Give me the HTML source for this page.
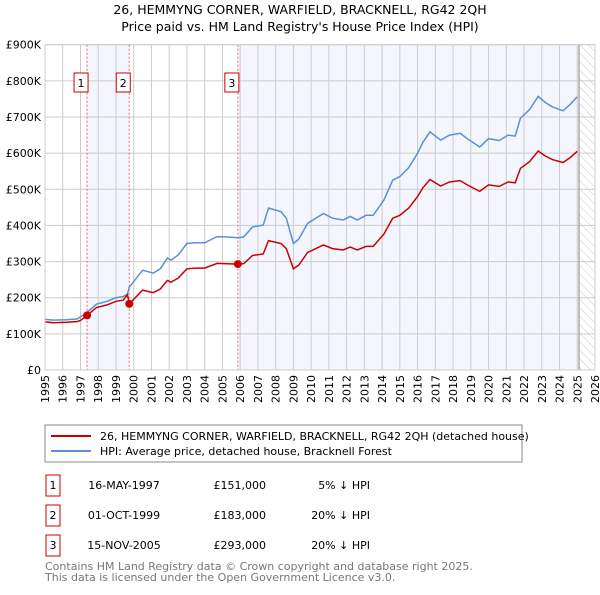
<!DOCTYPE html>
<html><head><meta charset="utf-8"><style>
body{margin:0;background:#fff;font-family:"Liberation Sans","DejaVu Sans",sans-serif}
svg text{font-family:"DejaVu Sans","Liberation Sans",sans-serif}
</style></head><body>
<svg id="c" width="600" height="590" viewBox="0 0 600 590">
<defs><pattern id="hatch" width="6" height="6" patternUnits="userSpaceOnUse" patternTransform="rotate(-45)"><line x1="0" y1="0" x2="0" y2="6" stroke="#bbb" stroke-width="0.8"/></pattern></defs>
<text x="300" y="14" text-anchor="middle" font-size="12.5">26, HEMMYNG CORNER, WARFIELD, BRACKNELL, RG42 2QH</text>
<text x="300" y="31" text-anchor="middle" font-size="12.5">Price paid vs. HM Land Registry's House Price Index (HPI)</text>
<g id="plot"></g>
<rect x="45" y="425" width="477" height="37" fill="#fff" stroke="#888"/>
<line x1="51" y1="436" x2="91" y2="436" stroke="#cc0000" stroke-width="2"/>
<text x="100" y="440" font-size="11">26, HEMMYNG CORNER, WARFIELD, BRACKNELL, RG42 2QH (detached house)</text>
<line x1="51" y1="451" x2="91" y2="451" stroke="#5b8fd6" stroke-width="2"/>
<text x="100" y="455" font-size="11">HPI: Average price, detached house, Bracknell Forest</text>
<g font-size="11">
<rect x="46" y="475" width="14" height="21" fill="none" stroke="#cc0000"/><text x="53" y="489" text-anchor="middle">1</text>
<text x="124" y="489" text-anchor="middle">16-MAY-1997</text><text x="266" y="489" text-anchor="end">£151,000</text><text x="370" y="489" text-anchor="end">5% ↓ HPI</text>
<rect x="46" y="505" width="14" height="21" fill="none" stroke="#cc0000"/><text x="53" y="519" text-anchor="middle">2</text>
<text x="124" y="519" text-anchor="middle">01-OCT-1999</text><text x="266" y="519" text-anchor="end">£183,000</text><text x="370" y="519" text-anchor="end">20% ↓ HPI</text>
<rect x="46" y="535" width="14" height="21" fill="none" stroke="#cc0000"/><text x="53" y="549" text-anchor="middle">3</text>
<text x="124" y="549" text-anchor="middle">15-NOV-2005</text><text x="266" y="549" text-anchor="end">£293,000</text><text x="370" y="549" text-anchor="end">20% ↓ HPI</text>
</g>
<text x="45" y="570" font-size="11" fill="#777">Contains HM Land Registry data © Crown copyright and database right 2025.</text>
<text x="45" y="581" font-size="11" fill="#777">This data is licensed under the Open Government Licence v3.0.</text>
</svg>
<script>
const years=[1995.0,1995.5,1996.2,1996.8,1997.0,1997.37,1997.9,1998.5,1999.0,1999.4,1999.65,1999.75,2000.5,2001.1,2001.5,2001.9,2002.1,2002.5,2003.0,2003.5,2004.0,2004.7,2005.3,2005.87,2006.2,2006.7,2007.3,2007.6,2008.3,2008.6,2009.0,2009.3,2009.8,2010.7,2011.2,2011.8,2012.2,2012.6,2013.1,2013.5,2014.1,2014.6,2015.0,2015.5,2016.0,2016.3,2016.7,2017.3,2017.8,2018.4,2018.8,2019.5,2020.0,2020.6,2021.1,2021.5,2021.8,2022.3,2022.8,2023.2,2023.6,2024.2,2024.6,2025.0];
const hpiValues=[140,138,139,141,147,159,182,190,200,203,210,229,276,268,280,310,304,318,350,352,352,369,368,366,368,396,401,448,438,420,350,362,406,433,420,415,425,415,428,428,470,525,535,560,600,630,659,636,650,655,640,617,640,635,650,647,697,720,757,740,728,717,735,756];
const propValues=[133,131,132,134,137,151,173,180,190,193,208,183,221,214,224,248,243,254,280,282,282,295,294,293,294,317,321,358,350,336,280,290,325,346,336,332,340,332,342,342,376,420,428,448,480,504,527,509,520,524,512,494,512,508,520,518,558,576,606,592,582,574,588,605];
const saleYears=[1997.37,1999.75,2005.87];
const salePrices=[151,183,293];
const saleLabels=['1','2','3'];
const yTicks=[0,100,200,300,400,500,600,700,800,900];
const yTickLabels=['£0','£100K','£200K','£300K','£400K','£500K','£600K','£700K','£800K','£900K'];
const xTicks=[];for(let y=1995;y<=2026;y++)xTicks.push(y);
const X0=45,X1=595,Y0=370,Y1=44.7,yr0=1995,yr1=2026,vmax=900,dataEnd=2025.1;
const xs=y=>X0+(y-yr0)/(yr1-yr0)*(X1-X0);
const ys=v=>Y0-v/vmax*(Y0-Y1);
const g=document.getElementById('plot');const NS='http://www.w3.org/2000/svg';
function mk(t,a){const e=document.createElementNS(NS,t);for(const k in a)e.setAttribute(k,a[k]);g.appendChild(e);return e;}
let e;
e=mk('rect',{x:xs(saleYears[0]),y:Y1,width:xs(saleYears[1])-xs(saleYears[0]),height:Y0-Y1,fill:'#f3f6fd'});


e=mk('rect',{x:xs(saleYears[2]),y:Y1,width:xs(dataEnd)-xs(saleYears[2]),height:Y0-Y1,fill:'#f3f6fd'});


e=mk('rect',{x:xs(dataEnd),y:Y1,width:X1-xs(dataEnd),height:Y0-Y1,fill:'url(#hatch)'});


xTicks.forEach(t=>{e=mk('line',{x1:xs(t),x2:xs(t),y1:Y1,y2:Y0,stroke:'#ccc','stroke-width':1});


const tx=xs(t)+4,ty=Y0+5;
e=mk('text',{x:tx,y:ty,'text-anchor':'end','font-size':11,transform:'rotate(-90 '+tx+' '+ty+')'});e.textContent=t;

});
yTicks.forEach((t,i)=>{e=mk('line',{x1:X0,x2:X1,y1:ys(t),y2:ys(t),stroke:'#ccc','stroke-width':1});


e=mk('text',{x:X0-4,y:ys(t)+4,'text-anchor':'end','font-size':11});e.textContent=yTickLabels[i];

});
e=mk('line',{x1:xs(dataEnd),x2:xs(dataEnd),y1:Y1,y2:Y0,stroke:'#888','stroke-width':1});


saleYears.forEach((s,i)=>{e=mk('line',{x1:xs(s),x2:xs(s),y1:Y1,y2:Y0,stroke:'#e66','stroke-width':1,'stroke-dasharray':'2,2'});


e=mk('rect',{x:xs(s)-13,y:73,width:14,height:19,fill:'#fff',stroke:'#cc0000'});


e=mk('text',{x:xs(s)-6,y:87,'text-anchor':'middle','font-size':11});e.textContent=saleLabels[i];

});
const pts=v=>years.map((y,i)=>xs(y).toFixed(1)+','+ys(v[i]).toFixed(1)).join(' ');
e=mk('polyline',{points:pts(hpiValues),fill:'none',stroke:'#5b8fd6','stroke-width':1.5});


e=mk('polyline',{points:pts(propValues),fill:'none',stroke:'#cc0000','stroke-width':1.5});


saleYears.forEach((s,i)=>{e=mk('circle',{cx:xs(s),cy:ys(salePrices[i]),r:4,fill:'#cc0000'});

});
e=mk('rect',{x:X0,y:Y1,width:X1-X0,height:Y0-Y1,fill:'none',stroke:'#ccc'});


</script>
</body></html>
